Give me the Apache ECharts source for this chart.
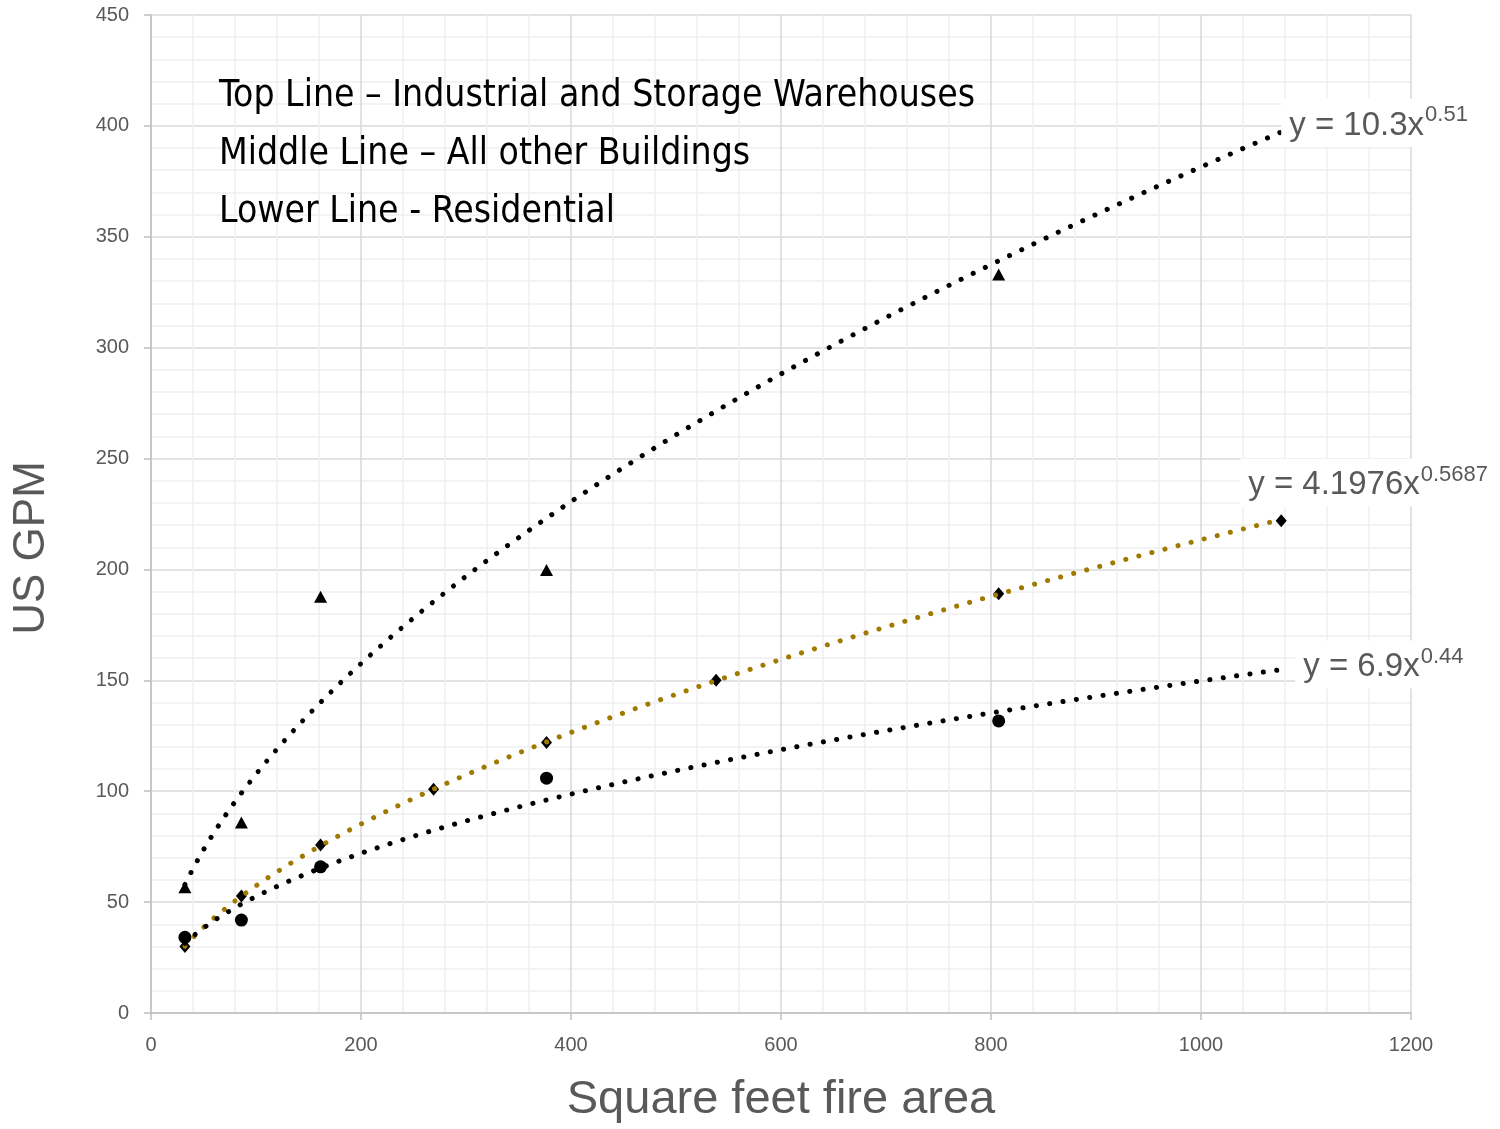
<!DOCTYPE html>
<html>
<head>
<meta charset="utf-8">
<script src="https://cdn.jsdelivr.net/npm/echarts@6/dist/echarts.min.js"></script>
<style>html,body{margin:0;padding:0;background:#fff;}#chart{width:1500px;height:1129px;}</style>
</head>
<body>
<div id="chart"></div>
<script>
// ---- data (square feet fire area vs US GPM) ----
const industrialX  = [32.3, 86.1, 161.5, 376.7, 807.3];
const industrialY  = [56.7, 85.9, 187.7, 199.8, 333];
const otherX       = [32.3, 86.1, 161.5, 269.1, 376.7, 538.2, 807.3, 1076.4];
const otherY       = [30.0, 52.8, 75.7, 100.9, 122, 150, 189.0, 222];
const residentialX = [32.3, 86.1, 161.5, 376.7, 807.3];
const residentialY = [34.1, 41.9, 65.9, 105.9, 131.7];
const trendRange   = [32.3, 1076.4];
const eqLabels     = [['y = 10.3x', '0.51'], ['y = 4.1976x', '0.5687'], ['y = 6.9x', '0.44']];
const legendLines  = ['Top Line \u2013 Industrial and Storage Warehouses',
                      'Middle Line \u2013 All other Buildings',
                      'Lower Line - Residential'];
const xTicks = [0, 200, 400, 600, 800, 1000, 1200];
const yTicks = [0, 50, 100, 150, 200, 250, 300, 350, 400, 450];

// power-law least squares trendline (as the spreadsheet does)
function powerFit(xs, ys) {
  const lx = xs.map(Math.log), ly = ys.map(Math.log);
  const n = xs.length;
  const mx = lx.reduce((a, b) => a + b) / n, my = ly.reduce((a, b) => a + b) / n;
  let sxy = 0, sxx = 0;
  for (let i = 0; i < n; i++) { sxy += (lx[i] - mx) * (ly[i] - my); sxx += (lx[i] - mx) ** 2; }
  const b = sxy / sxx, a = Math.exp(my - b * mx);
  return x => a * Math.pow(x, b);
}
function trendData(xs, ys) {
  const f = powerFit(xs, ys);
  const out = [];
  const N = 240;
  for (let i = 0; i <= N; i++) {
    const x = trendRange[0] + (trendRange[1] - trendRange[0]) * i / N;
    out.push([x, f(x)]);
  }
  return out;
}
function eqLabel(eq, offset) {
  return {
    show: true, distance: 0, offset: offset,
    backgroundColor: '#ffffff', padding: [5, 8, 5, 8],
    formatter: '{a|' + eq[0] + '}{s|' + eq[1] + '}',
    rich: {
      a: {fontFamily: 'Liberation Sans', fontSize: 33, color: '#595959', lineHeight: 38, verticalAlign: 'bottom'},
      s: {fontFamily: 'Liberation Sans', fontSize: 22, color: '#595959', lineHeight: 38, verticalAlign: 'top', padding: [0, 0, 0, 1]}
    }
  };
}
const zip = (xs, ys) => xs.map((x, i) => [x, ys[i]]);
const dotted = (color) => ({color: color, width: 5, type: [0.1, 13.4], cap: 'round'});

const chart = echarts.init(document.getElementById('chart'), null, {renderer: 'canvas'});
const axisLabelStyle = {color: '#595959', fontSize: 20, fontFamily: 'Liberation Sans'};
chart.setOption({
  animation: false,
  backgroundColor: '#ffffff',
  grid: {left: 151, right: 89, top: 15, bottom: 115, containLabel: false},
  xAxis: {
    type: 'value', min: 0, max: 1200, interval: 200,
    name: 'Square feet fire area', nameLocation: 'middle', nameGap: 64,
    nameTextStyle: {fontFamily: 'Liberation Sans', fontSize: 47, color: '#595959'},
    axisLine: {show: true, lineStyle: {color: '#BFBFBF', width: 1.5}},
    axisTick: {show: true, length: 7, lineStyle: {color: '#BFBFBF', width: 1.5}},
    axisLabel: Object.assign({margin: 22, formatter: v => xTicks.includes(v) ? String(v) : ''}, axisLabelStyle),
    splitLine: {show: true, lineStyle: {color: '#D9D9D9', width: 1.5}},
    minorTick: {show: false, splitNumber: 5},
    minorSplitLine: {show: true, lineStyle: {color: '#EFEFEF', width: 1.5}}
  },
  yAxis: {
    type: 'value', min: 0, max: 450, interval: 50,
    axisLine: {show: true, lineStyle: {color: '#BFBFBF', width: 1.5}},
    axisTick: {show: true, length: 7, lineStyle: {color: '#BFBFBF', width: 1.5}},
    axisLabel: Object.assign({margin: 22, formatter: v => yTicks.includes(v) ? String(v) : ''}, axisLabelStyle),
    splitLine: {show: true, lineStyle: {color: '#D9D9D9', width: 1.5}},
    minorTick: {show: false, splitNumber: 5},
    minorSplitLine: {show: true, lineStyle: {color: '#EFEFEF', width: 1.5}}
  },
  graphic: legendLines.map((t, i) => ({
    type: 'text', left: 219, top: 78 + i * 58, z: 10,
    style: {text: t, fontFamily: 'DejaVu Sans Condensed, sans-serif', fontSize: 37, fill: '#000'}
  })).concat([{
    type: 'text', x: 32, y: 548, rotation: Math.PI / 2, z: 10,
    style: {text: 'US GPM', fontFamily: 'Liberation Sans', fontSize: 44, fill: '#595959', align: 'center', verticalAlign: 'middle'}
  }]),
  series: [
    {type: 'line', name: 'trend-top', data: trendData(industrialX, industrialY),
     showSymbol: false, symbol: 'none', lineStyle: dotted('#000000'), z: 3, silent: true,
     endLabel: eqLabel(eqLabels[0], [0, -9])},
    {type: 'line', name: 'trend-mid', data: trendData(otherX, otherY),
     showSymbol: false, symbol: 'none', lineStyle: dotted('#A07A00'), z: 3, silent: true,
     endLabel: eqLabel(eqLabels[1], [-41, -37])},
    {type: 'line', name: 'trend-low', data: trendData(residentialX, residentialY),
     showSymbol: false, symbol: 'none', lineStyle: dotted('#000000'), z: 3, silent: true,
     endLabel: eqLabel(eqLabels[2], [14, -5])},
    {type: 'scatter', name: 'Industrial', data: zip(industrialX, industrialY), symbol: 'triangle', symbolSize: [13, 12],
     itemStyle: {color: '#000', opacity: 1}, z: 4},
    {type: 'scatter', name: 'Other', data: zip(otherX, otherY), symbol: 'diamond', symbolSize: [11, 13],
     itemStyle: {color: '#000', opacity: 1}, z: 2},
    {type: 'scatter', name: 'Residential', data: zip(residentialX, residentialY), symbol: 'circle', symbolSize: 13,
     itemStyle: {color: '#000', opacity: 1}, z: 4}
  ]
});
</script>
</body>
</html>
